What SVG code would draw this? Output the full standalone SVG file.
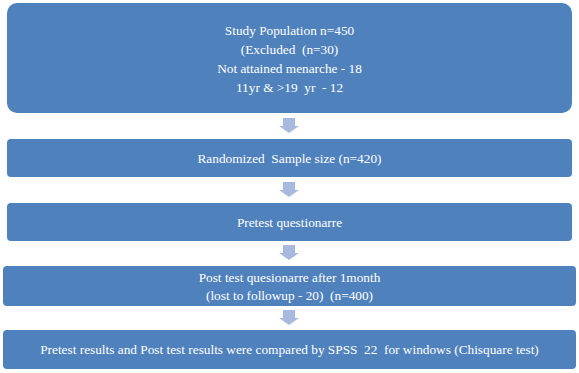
<svg xmlns="http://www.w3.org/2000/svg" width="579" height="373" viewBox="0 0 579 373">
<defs>
<style>
.box{fill:#4f81bd;}
text{font-family:'Liberation Serif','DejaVu Serif',serif;font-size:13.3px;fill:#ffffff;text-anchor:middle;white-space:pre;}
.arr{fill:#a7bade;}
</style>
<path id="dn" d="M-6,0 H6 V8 H10 L0,15 L-10,8 H-6 Z"/>
</defs>
<rect width="579" height="373" fill="#ffffff"/>
<g id="n1">
<rect class="box" x="7" y="3" width="565" height="110" rx="10"/>
<text x="289.5" y="35">Study Population n=450</text>
<text x="289.5" y="54">(Excluded  (n=30)</text>
<text x="289.5" y="73">Not attained menarche - 18</text>
<text x="289.5" y="92">11yr &amp; &gt;19  yr  - 12</text>
</g>
<g id="n2">
<rect class="box" x="7" y="139" width="565" height="38" rx="4"/>
<text x="289.5" y="162.5">Randomized  Sample size (n=420)</text>
</g>
<g id="n3">
<rect class="box" x="7" y="203" width="565" height="38" rx="4"/>
<text x="289.5" y="226.5">Pretest questionarre</text>
</g>
<g id="n4">
<rect class="box" x="3" y="266" width="573" height="40" rx="4"/>
<text x="289.5" y="281.5">Post test quesionarre after 1month</text>
<text x="289.5" y="300">(lost to followup - 20)  (n=400)</text>
</g>
<g id="n5">
<rect class="box" x="3" y="330" width="573" height="39" rx="4"/>
<text x="289.5" y="354">Pretest results and Post test results were compared by SPSS  22  for windows (Chisquare test)</text>
</g>
<g id="connectors">
<use href="#dn" class="arr" x="289" y="118"/>
<use href="#dn" class="arr" x="289" y="182"/>
<use href="#dn" class="arr" x="289" y="245"/>
<use href="#dn" class="arr" x="289" y="310"/>
</g>
</svg>
